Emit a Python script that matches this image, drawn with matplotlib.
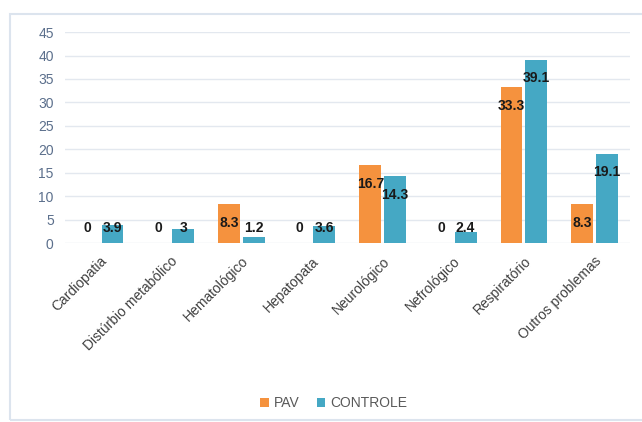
import numpy as np
import matplotlib
matplotlib.use("Agg")
import matplotlib.pyplot as plt
from matplotlib.patches import Rectangle

plt.rcParams['font.family'] = ['Liberation Sans Narrow', 'Liberation Sans', 'DejaVu Sans']

# dados
categorias = ["Cardiopatia", "Distúrbio metabólico", "Hematológico", "Hepatopata",
              "Neurológico", "Nefrológico", "Respiratório", "Outros problemas"]
pav = [0, 0, 8.3, 0, 16.7, 0, 33.3, 8.3]
controle = [3.9, 3, 1.2, 3.6, 14.3, 2.4, 39.1, 19.1]
y_ticks = [0, 5, 10, 15, 20, 25, 30, 35, 40, 45]

cor_pav = "#F5923E"
cor_controle = "#45A8C4"

fig = plt.figure(figsize=(6.42, 4.22), dpi=100)
ax = fig.add_axes([0.101, 0.424, 0.880, 0.500])

x = np.arange(len(categorias))
w = 0.31
ax.bar(x - w/2 - 0.02, pav, w, color=cor_pav, label="PAV", zorder=3)
ax.bar(x + w/2 + 0.02, controle, w, color=cor_controle, label="CONTROLE", zorder=3)

# rotulos de dados
for i in range(len(categorias)):
    for val, dx in ((pav[i], -w/2 - 0.02), (controle[i], w/2 + 0.02)):
        txt = ("%g" % val)
        ax.text(x[i] + dx, max(val - 4, 3.2), txt, ha="center", va="center",
                fontsize=10, fontweight="bold", color="#1a1a1a", zorder=4)

ax.set_xlim(-0.5, len(categorias) - 0.5)
ax.set_ylim(0, 45)
ax.set_yticks(y_ticks)
ax.grid(axis="y", color="#E3E8EF", lw=1, zorder=0)
for s in ax.spines.values():
    s.set_visible(False)
ax.tick_params(axis="both", length=0)
ax.tick_params(axis="y", labelcolor="#5B6F8C", labelsize=10, pad=8)
ax.set_xticks(x)
ax.set_xticklabels(categorias, rotation=45, ha="right", rotation_mode="anchor",
                   fontsize=10, color="#404040")
ax.tick_params(axis="x", pad=8)

leg = fig.legend(loc="center", bbox_to_anchor=(0.52, 0.045), ncol=2, frameon=False,
                 fontsize=10, handlelength=0.6, handleheight=0.6, handletextpad=0.4,
                 columnspacing=1.2)
for t in leg.get_texts():
    t.set_color("#595959")

fig.patches.append(Rectangle((0.0156, 0.005), 1.1, 0.962, transform=fig.transFigure,
                             fill=False, edgecolor="#DCE4EE", lw=1.5))

plt.savefig("out.png", dpi=100)
